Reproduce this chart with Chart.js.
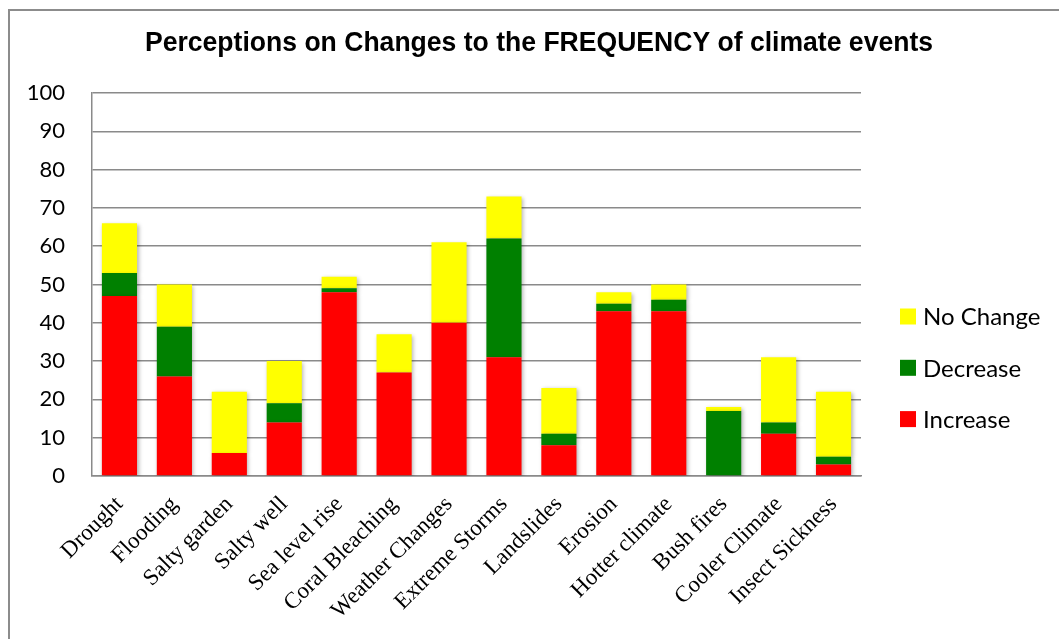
<!DOCTYPE html>
<html>
<head>
<meta charset="utf-8">
<script src="https://cdn.jsdelivr.net/npm/chart.js@4.4.1/dist/chart.umd.min.js"></script>
<style>
  html, body { margin: 0; padding: 0; background: #ffffff; }
  #wrap { position: relative; width: 1059px; height: 639px; overflow: hidden; }
  #frame { position: absolute; left: 8px; top: 9px; width: 1100px; height: 700px;
           border-left: 2px solid #8c8c8c; border-top: 2px solid #8c8c8c; box-sizing: border-box; }
  canvas { position: absolute; left: 0; top: 0; }
</style>
</head>
<body>
<div id="wrap">
  <div id="frame"></div>
  <canvas id="chart" width="1059" height="639"></canvas>
</div>
<script>
const chartTitle = 'Perceptions on Changes to the FREQUENCY of climate events';
const categories = ['Drought', 'Flooding', 'Salty garden', 'Salty well', 'Sea level rise',
  'Coral Bleaching', 'Weather Changes', 'Extreme Storms', 'Landslides', 'Erosion',
  'Hotter climate', 'Bush fires', 'Cooler Climate', 'Insect Sickness'];
const increase = [47, 26, 6, 14, 48, 27, 40, 31, 8, 43, 43, 0, 11, 3];
const decrease = [6, 13, 0, 5, 1, 0, 0, 31, 3, 2, 3, 17, 3, 2];
const noChange = [13, 11, 16, 11, 3, 10, 21, 11, 12, 3, 4, 1, 17, 17];
const yTicks = [0, 10, 20, 30, 40, 50, 60, 70, 80, 90, 100];

// soft drop shadow under the bars
const barShadow = {
  id: 'barShadow',
  beforeDatasetsDraw(chart) {
    const ctx = chart.ctx;
    ctx.save();
    ctx.shadowColor = 'rgba(0,0,0,0.30)';
    ctx.shadowBlur = 4;
    ctx.shadowOffsetX = 1.5;
    ctx.shadowOffsetY = 1.5;
  },
  afterDatasetsDraw(chart) {
    chart.ctx.restore();
  }
};

// title (slightly condensed bold face) and right-hand legend
const decorations = {
  id: 'decorations',
  afterDraw(chart) {
    const ctx = chart.ctx;
    ctx.save();
    ctx.fillStyle = '#000000';
    ctx.font = 'bold 27px "Liberation Sans", Arial, sans-serif';
    ctx.textAlign = 'center';
    ctx.textBaseline = 'middle';
    const w = ctx.measureText(chartTitle).width;
    const sx = Math.min(1, 788 / w);
    ctx.save();
    ctx.translate(539, 44);
    ctx.scale(sx, 1);
    ctx.fillText(chartTitle, 0, 0);
    ctx.restore();

    const items = chart.data.datasets.slice().reverse();
    ctx.font = '24px Lato, "Open Sans", sans-serif';
    ctx.textAlign = 'left';
    items.forEach((ds, i) => {
      const y = 316.5 + i * 51.3;
      ctx.fillStyle = ds.backgroundColor;
      ctx.fillRect(900, y - 8, 16, 16);
      ctx.fillStyle = '#000000';
      ctx.fillText(ds.label, 923, y + 1);
    });
    ctx.restore();
  }
};

new Chart(document.getElementById('chart'), {
  type: 'bar',
  data: {
    labels: categories,
    datasets: [
      { label: 'Increase', data: increase, backgroundColor: '#ff0000' },
      { label: 'Decrease', data: decrease, backgroundColor: '#008000' },
      { label: 'No Change', data: noChange, backgroundColor: '#ffff00' }
    ]
  },
  options: {
    responsive: false,
    animation: false,
    devicePixelRatio: 1,
    layout: { padding: { left: 0, right: 198, top: 93, bottom: 0 } },
    datasets: { bar: { barPercentage: 0.64, categoryPercentage: 1, borderWidth: 0 } },
    plugins: {
      legend: { display: false },
      title: { display: false },
      tooltip: { enabled: false }
    },
    scales: {
      x: {
        stacked: true,
        grid: { display: false, drawTicks: false },
        border: { display: true, color: '#8a8a8a', width: 1.5 },
        ticks: {
          autoSkip: false,
          maxRotation: 45,
          minRotation: 45,
          padding: 15,
          labelOffset: 0,
          color: '#000000',
          font: { family: '"Liberation Serif", "Times New Roman", serif', size: 23 }
        },
        afterFit(scale) { scale.height = 163; }
      },
      y: {
        stacked: true,
        min: 0,
        max: 100,
        afterBuildTicks(scale) { scale.ticks = yTicks.map(v => ({ value: v })); },
        grid: { color: '#8a8a8a', lineWidth: 1.5, drawTicks: false },
        border: { display: true, color: '#8a8a8a', width: 1.5 },
        ticks: {
          padding: 27,
          color: '#000000',
          font: { family: 'Lato, "Open Sans", sans-serif', size: 22 }
        },
        afterFit(scale) { scale.width = 92; }
      }
    }
  },
  plugins: [barShadow, decorations]
});
</script>
</body>
</html>
